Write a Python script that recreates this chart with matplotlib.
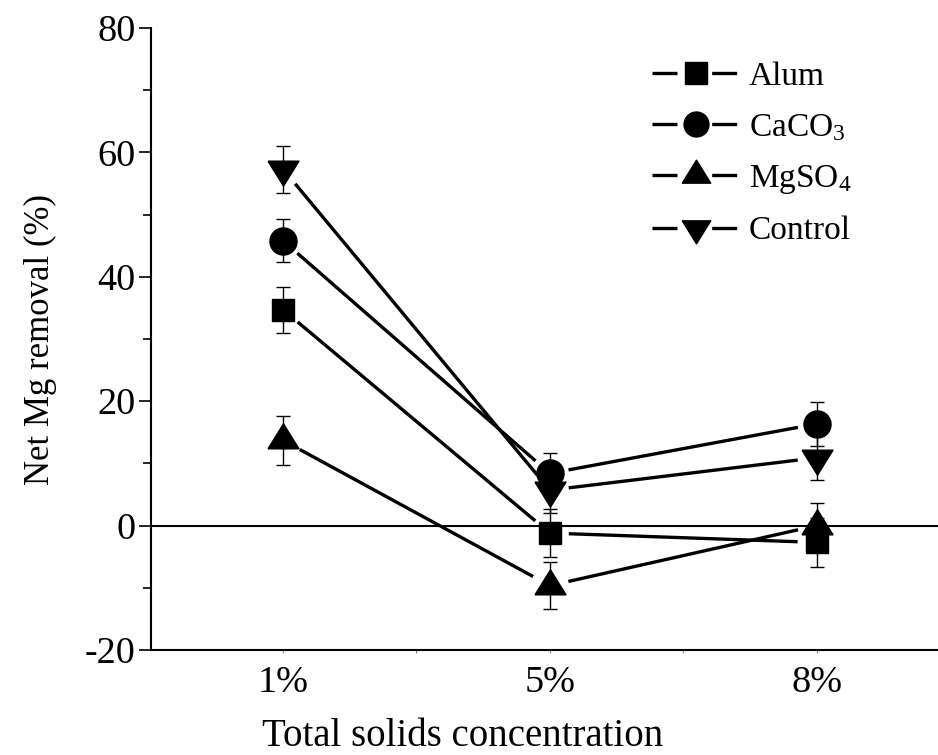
import matplotlib
matplotlib.use('Agg')
import matplotlib.pyplot as plt
import numpy as np
from matplotlib.lines import Line2D

plt.rcParams['font.family'] = 'Liberation Serif'
plt.rcParams['mathtext.fontset'] = 'custom'
plt.rcParams['mathtext.rm'] = 'Liberation Serif'
plt.rcParams['mathtext.it'] = 'Liberation Serif:italic'

concentrations = ['1%', '5%', '8%']
series_names = ['Alum', r'CaCO$_3$', r'MgSO$_4$', 'Control']

alum = [34.7, -1.2, -2.7]
alum_err = [3.7, 3.85, 3.9]
caco3 = [45.8, 8.4, 16.35]
caco3_err = [3.5, 3.3, 3.5]
mgso4 = [13.7, -9.65, 0.0]
mgso4_err = [4.0, 3.75, 3.65]
control = [57.3, 5.7, 10.9]
control_err = [3.8, 3.6, 3.6]

# triangles centred on their centroid, wider than tall
tri_up = [(-15.5, -8.33), (15.5, -8.33), (0, 16.67), (-15.5, -8.33)]
tri_down = [(-15.5, 8.33), (15.5, 8.33), (0, -16.67), (-15.5, 8.33)]
markers = ['s', 'o', tri_up, tri_down]
msizes = [16.5, 19.5, 24, 24]

fig = plt.figure(figsize=(9.38, 7.55), dpi=100)
ax = fig.add_axes([151 / 938, 105 / 755, 787 / 938, 622 / 755])
x = np.arange(1, len(concentrations) + 1)
ax.set_xlim(0.505, 3.455)
ax.set_ylim(-20, 80)

ax.axhline(0, color='black', lw=1.5, zorder=1)


def gapped_line(xs, ys, gap=19):
    # connect points but stop short of each marker (gap in pixels)
    pts = ax.transData.transform(np.column_stack([xs, ys]))
    inv = ax.transData.inverted()
    for p0, p1 in zip(pts[:-1], pts[1:]):
        d = p1 - p0
        u = d / np.hypot(*d)
        seg = inv.transform(np.array([p0 + u * gap, p1 - u * gap]))
        ax.plot(seg[:, 0], seg[:, 1], color='black', lw=2.4,
                solid_capstyle='butt', zorder=2)


all_vals = [alum, caco3, mgso4, control]
all_errs = [alum_err, caco3_err, mgso4_err, control_err]
for vals, errs, mk, ms in zip(all_vals, all_errs, markers, msizes):
    gapped_line(x, vals)
    ax.errorbar(x, vals, yerr=errs, fmt='none', ecolor='black',
                elinewidth=1.0, capsize=4.8, capthick=1.0, zorder=3)
    ax.plot(x, vals, ls='none', marker=mk, ms=ms, color='black',
            mec='black', zorder=4)

ax.spines['top'].set_visible(False)
ax.spines['right'].set_visible(False)
ax.spines['left'].set_linewidth(1.5)
ax.spines['bottom'].set_linewidth(1.5)

ax.set_yticks(np.arange(-20, 81, 20))
ax.set_yticks(np.arange(-10, 80, 20), minor=True)
ax.set_yticklabels(['-20', '0', '20', '40', '60', '80'])
ax.tick_params(axis='y', which='major', direction='out', length=9,
               width=1.2, labelsize=27.5, pad=2)
ax.tick_params(axis='y', which='minor', direction='out', length=5.5,
               width=1.2)

ax.set_xticks(x)
ax.set_xticks([1.5, 2.5], minor=True)
ax.set_xticklabels(concentrations)
ax.tick_params(axis='x', which='both', direction='out', length=2.5,
               width=0.8, color='0.5', labelsize=27.5, pad=9)

ax.set_ylabel('Net Mg removal (%)', fontsize=25)
ax.yaxis.set_label_coords(-0.12, 0.5)
ax.set_xlabel('Total solids concentration', fontsize=28)
ax.xaxis.set_label_coords(0.396, -0.11)

# legend handles: line - marker - line
handles = []
for mk, ms in zip(markers, msizes):
    handles.append(Line2D([], [], color='black', lw=2.4,
                          ls=(0, (7.5, 10.4)), dash_capstyle='butt',
                          marker=mk, ms=ms * 0.92, mec='black'))
ax.legend(handles, series_names, loc='upper left',
          bbox_to_anchor=(0.637, 0.946), frameon=False, fontsize=24,
          handlelength=2.6, handletextpad=0.3, labelspacing=0.6,
          borderpad=0, borderaxespad=0)

fig.savefig('out.png', dpi=100)
